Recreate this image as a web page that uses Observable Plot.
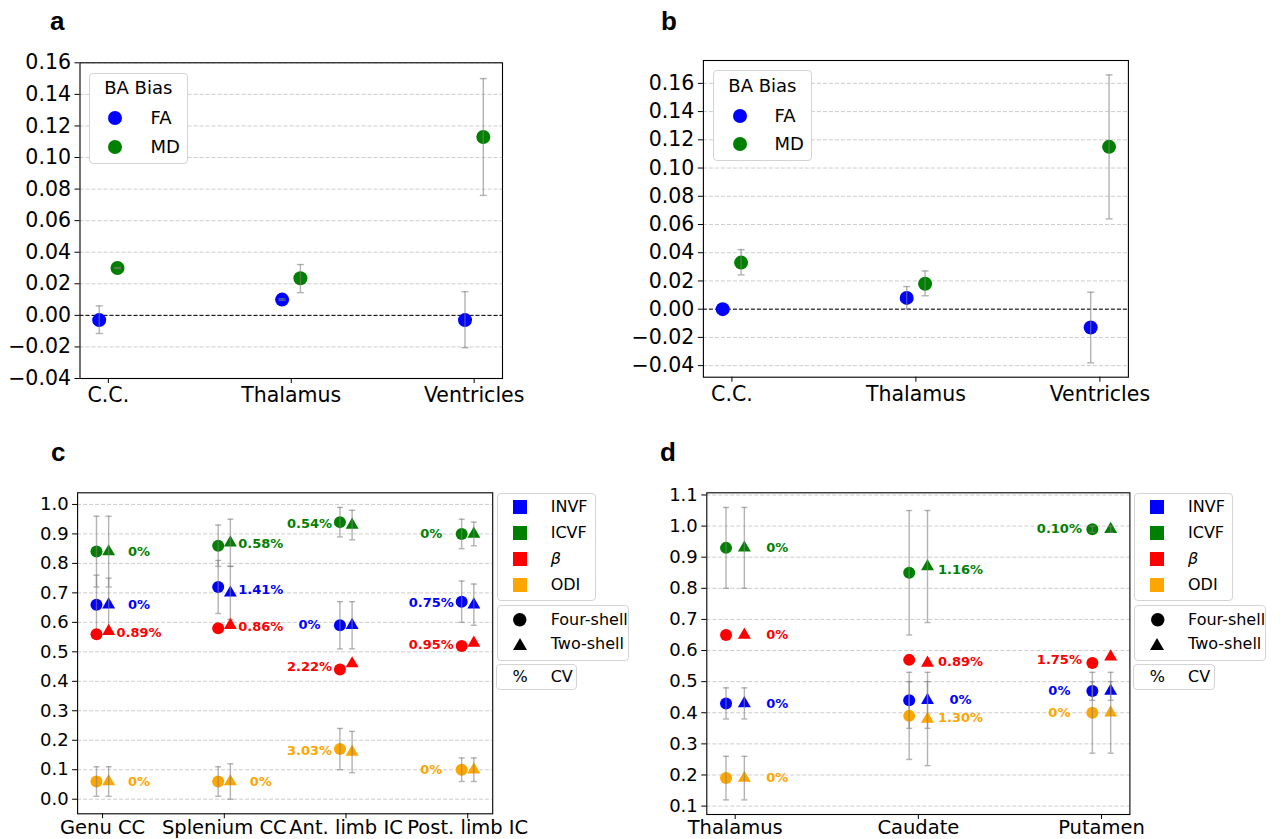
<!DOCTYPE html>
<html><head><meta charset="utf-8">
<script src="https://cdn.jsdelivr.net/npm/d3@7"></script>
<script src="https://cdn.jsdelivr.net/npm/@observablehq/plot@0.6"></script>
<style>
body{margin:0;background:#fff;}
#page{position:relative;width:1282px;height:839px;overflow:hidden;background:#fff;font-family:"DejaVu Sans",sans-serif;}
.panel{position:absolute;}
.panel svg{display:block;}
.letter{position:absolute;font-family:"Liberation Sans",Arial,sans-serif;font-weight:bold;font-size:26px;line-height:26px;color:#000;}
.lg{position:absolute;border:1px solid #d4d4d4;border-radius:4px;background:#fff;box-sizing:border-box;}
.lt{position:absolute;line-height:1;transform:translateY(-50%);white-space:nowrap;color:#000;font-family:"DejaVu Sans",sans-serif;}
.mk{position:absolute;}
</style></head><body><div id="page"></div>
<script>
// ================= DATA =================
// Panels a & b : BA bias
const regionsAB = ["C.C.", "Thalamus", "Ventricles"];
const biasSeries = ["FA", "MD"];
const biasLegendTitle = "BA Bias";

const aFA     = [-0.003, 0.010, -0.003];
const aFALow  = [-0.0115, 0.0095, -0.0205];
const aFAHigh = [0.006, 0.0105, 0.015];
const aMD     = [0.030, 0.0235, 0.113];
const aMDLow  = [0.0297, 0.0144, 0.076];
const aMDHigh = [0.0303, 0.0322, 0.150];

const bFA     = [0.000, 0.008, -0.013];
const bFALow  = [null, 0.0003, -0.038];
const bFAHigh = [null, 0.016, 0.012];
const bMD     = [0.033, 0.018, 0.115];
const bMDLow  = [0.0243, 0.0095, 0.064];
const bMDHigh = [0.0422, 0.0271, 0.166];

const abTicks = [-0.04, -0.02, 0, 0.02, 0.04, 0.06, 0.08, 0.10, 0.12, 0.14, 0.16];
const abTickLabels = ["\u22120.04", "\u22120.02", "0.00", "0.02", "0.04", "0.06", "0.08", "0.10", "0.12", "0.14", "0.16"];

// Panels c & d : NODDI metrics (rows: INVF, ICVF, beta, ODI)
const metrics = ["INVF", "ICVF", "\u03b2", "ODI"];
const shells = ["Four-shell", "Two-shell"];
const cvLegend = ["%", "CV"];

const regionsC = ["Genu CC", "Splenium CC", "Ant. limb IC", "Post. limb IC"];
const cFour     = [[0.66, 0.72, 0.59, 0.67], [0.84, 0.86, 0.94, 0.90], [0.56, 0.58, 0.44, 0.52], [0.06, 0.06, 0.17, 0.10]];
const cFourLow  = [[0.56, 0.63, 0.51, 0.60], [0.72, 0.79, 0.89, 0.85], [null, null, null, null], [0.01, 0.01, 0.10, 0.06]];
const cFourHigh = [[0.76, 0.81, 0.67, 0.74], [0.96, 0.93, 0.99, 0.95], [null, null, null, null], [0.11, 0.11, 0.24, 0.14]];
const cTwo      = [[0.66, 0.70, 0.59, 0.66], [0.84, 0.87, 0.93, 0.90], [0.57, 0.59, 0.46, 0.53], [0.06, 0.06, 0.16, 0.10]];
const cTwoLow   = [[0.56, 0.61, 0.51, 0.59], [0.72, 0.79, 0.88, 0.86], [null, null, null, null], [0.01, 0.00, 0.09, 0.06]];
const cTwoHigh  = [[0.75, 0.79, 0.67, 0.73], [0.96, 0.95, 0.98, 0.94], [null, null, null, null], [0.11, 0.12, 0.23, 0.14]];
const cCV       = [["0%", "1.41%", "0%", "0.75%"], ["0%", "0.58%", "0.54%", "0%"], ["0.89%", "0.86%", "2.22%", "0.95%"], ["0%", "0%", "3.03%", "0%"]];
const cTicks = [0, 0.1, 0.2, 0.3, 0.4, 0.5, 0.6, 0.7, 0.8, 0.9, 1.0];
const cTickLabels = ["0.0", "0.1", "0.2", "0.3", "0.4", "0.5", "0.6", "0.7", "0.8", "0.9", "1.0"];

const regionsD = ["Thalamus", "Caudate", "Putamen"];
const dFour     = [[0.43, 0.44, 0.47], [0.93, 0.85, 0.99], [0.65, 0.57, 0.56], [0.19, 0.39, 0.40]];
const dFourLow  = [[0.38, 0.35, 0.44], [0.80, 0.65, 0.98], [null, null, null], [0.12, 0.25, 0.27]];
const dFourHigh = [[0.48, 0.53, 0.53], [1.06, 1.05, 1.00], [null, null, null], [0.26, 0.50, 0.50]];
const dTwo      = [[0.43, 0.44, 0.47], [0.93, 0.87, 0.99], [0.65, 0.56, 0.58], [0.19, 0.38, 0.40]];
const dTwoLow   = [[0.38, 0.35, 0.44], [0.80, 0.69, 0.98], [null, null, null], [0.12, 0.23, 0.27]];
const dTwoHigh  = [[0.48, 0.53, 0.53], [1.06, 1.05, 1.00], [null, null, null], [0.26, 0.50, 0.50]];
const dCV       = [["0%", "0%", "0%"], ["0%", "1.16%", "0.10%"], ["0%", "0.89%", "1.75%"], ["0%", "1.30%", "0%"]];
const dTicks = [0.1, 0.2, 0.3, 0.4, 0.5, 0.6, 0.7, 0.8, 0.9, 1.0, 1.1];
const dTickLabels = ["0.1", "0.2", "0.3", "0.4", "0.5", "0.6", "0.7", "0.8", "0.9", "1.0", "1.1"];

// ================= STYLE / LAYOUT =================
const biasColors = ["blue", "green"];
const metricColors = ["blue", "green", "red", "orange"];
const dodge = 0.05;
const barStyle = {stroke: "gray", strokeOpacity: 0.6, strokeWidth: 1.4};
const capSymbol = {draw(ctx, size) { const w = Math.sqrt(size / Math.PI); ctx.moveTo(-w, 0); ctx.lineTo(w, 0); }};

const page = document.getElementById("page");

function xDomainFor(n) {
  const lo = -dodge, hi = n - 1 + dodge, pad = 0.05 * (hi - lo);
  return [lo - pad, hi + pad];
}
function yDomainFrom(arrs) {
  const v = arrs.flat(3).filter(d => d != null);
  const lo = d3.min(v), hi = d3.max(v), pad = 0.05 * (hi - lo);
  return [lo - pad, hi + pad];
}

function addPanel(cfg, marks, cats, ticks, tickLabels) {
  const svg = Plot.plot({
    width: cfg.width, height: cfg.height,
    marginLeft: cfg.ml, marginRight: cfg.mr, marginTop: cfg.mt, marginBottom: cfg.mb,
    x: {domain: xDomainFor(cats.length), axis: null, label: null},
    y: {domain: cfg.yDomain, axis: null, label: null},
    color: {type: "identity"},
    style: {fontFamily: "DejaVu Sans, sans-serif", background: "transparent", overflow: "visible", maxWidth: "none", color: "black"},
    marks: [
      Plot.gridY(ticks, {stroke: "#b0b0b0", strokeOpacity: 0.7, strokeDasharray: "4,2", strokeWidth: 0.9}),
      ...marks,
      Plot.frame({stroke: "#000", strokeWidth: 1.1}),
      Plot.axisY({ticks, tickFormat: d => tickLabels[ticks.indexOf(d)], tickSize: 5, tickPadding: 4, fontSize: cfg.yFont, label: null, anchor: "left"}),
      Plot.axisX({ticks: cats.map((_, i) => i), tickFormat: d => cats[d], tickSize: 5, tickPadding: cfg.xPad, fontSize: cfg.xFont, label: null, anchor: "bottom"})
    ]
  });
  const div = document.createElement("div");
  div.className = "panel";
  div.style.left = cfg.left + "px";
  div.style.top = cfg.top + "px";
  div.appendChild(svg);
  page.appendChild(div);
}

function biasMarks(FA, FALow, FAHigh, MD, MDLow, MDHigh) {
  const series = [[FA, FALow, FAHigh], [MD, MDLow, MDHigh]];
  const rows = [];
  series.forEach(([v, lo, hi], s) => v.forEach((val, i) => rows.push({x: i + (s === 0 ? -dodge : dodge), y: val, lo: lo[i], hi: hi[i], color: biasColors[s]})));
  const bars = rows.filter(r => r.lo != null);
  const caps = bars.flatMap(r => [{x: r.x, y: r.lo}, {x: r.x, y: r.hi}]);
  return [
    Plot.ruleY([0], {stroke: "#000", strokeDasharray: "4,2", strokeWidth: 1}),
    Plot.dot(rows, {x: "x", y: "y", fill: "color", r: 7}),
    Plot.ruleX(bars, {x: "x", y1: "lo", y2: "hi", ...barStyle}),
    Plot.dot(caps, {x: "x", y: "y", symbol: capSymbol, r: 3.5, fill: "none", ...barStyle})
  ];
}

function noddiMarks(four, fourLow, fourHigh, two, twoLow, twoHigh, cv, side, labelOff) {
  const marks = [];
  metrics.forEach((m, k) => {
    const circ = four[k].map((v, i) => ({x: i - dodge, y: v, lo: fourLow[k][i], hi: fourHigh[k][i], color: metricColors[k]}));
    const tri = two[k].map((v, i) => ({x: i + dodge, y: v, lo: twoLow[k][i], hi: twoHigh[k][i], color: metricColors[k]}));
    const bars = circ.concat(tri).filter(r => r.lo != null);
    const caps = bars.flatMap(r => [{x: r.x, y: r.lo}, {x: r.x, y: r.hi}]);
    const labels = cv[k].map((t, i) => ({x: i + side[i] * labelOff, y: (four[k][i] + two[k][i]) / 2, text: t, color: metricColors[k]}));
    marks.push(
      Plot.dot(circ, {x: "x", y: "y", fill: "color", r: 6}),
      Plot.dot(tri, {x: "x", y: "y", fill: "color", symbol: "triangle", r: 4.8}),
      Plot.ruleX(bars, {x: "x", y1: "lo", y2: "hi", ...barStyle}),
      Plot.dot(caps, {x: "x", y: "y", symbol: capSymbol, r: 3, fill: "none", ...barStyle}),
      Plot.text(labels, {x: "x", y: "y", text: "text", fill: "color", fontWeight: "bold", fontSize: 13, textAnchor: "middle", fontFamily: "DejaVu Sans, sans-serif"})
    );
  });
  return marks;
}

// ---------- panels ----------
addPanel({left: 0, top: 0, width: 540, height: 420, ml: 79.5, mr: 38, mt: 62.3, mb: 42, yDomain: [-0.04, 0.16], yFont: 20.5, xFont: 20.5, xPad: 4},
  biasMarks(aFA, aFALow, aFAHigh, aMD, aMDLow, aMDHigh), regionsAB, abTicks, abTickLabels);

addPanel({left: 620, top: 0, width: 560, height: 420, ml: 82.9, mr: 52.1, mt: 60, mb: 43.3,
  yDomain: yDomainFrom([bFA, bFALow, bFAHigh, bMD, bMDLow, bMDHigh]), yFont: 20.5, xFont: 20.5, xPad: 4},
  biasMarks(bFA, bFALow, bFAHigh, bMD, bMDLow, bMDHigh), regionsAB, abTicks, abTickLabels);

addPanel({left: 0, top: 430, width: 640, height: 409, ml: 77.1, mr: 147.8, mt: 62.3, mb: 25.7,
  yDomain: yDomainFrom([cFour, cFourLow, cFourHigh, cTwo, cTwoLow, cTwoHigh]), yFont: 18, xFont: 19.5, xPad: 1},
  noddiMarks(cFour, cFourLow, cFourHigh, cTwo, cTwoLow, cTwoHigh, cCV, [1, 1, -1, -1], 0.3), regionsC, cTicks, cTickLabels);

addPanel({left: 640, top: 430, width: 642, height: 409, ml: 66.3, mr: 152.6, mt: 62.3, mb: 25,
  yDomain: yDomainFrom([dFour, dFourLow, dFourHigh, dTwo, dTwoLow, dTwoHigh]), yFont: 18, xFont: 19.5, xPad: 1},
  noddiMarks(dFour, dFourLow, dFourHigh, dTwo, dTwoLow, dTwoHigh, dCV, [1, 1, -1], 0.23), regionsD, dTicks, dTickLabels);

// ---------- panel letters ----------
[["a", 50, 8], ["b", 661, 8], ["c", 51, 439], ["d", 660, 439]].forEach(([t, x, y]) => {
  const el = document.createElement("div");
  el.className = "letter"; el.textContent = t;
  el.style.left = x + "px"; el.style.top = y + "px";
  page.appendChild(el);
});

// ---------- legends ----------
function box(x, y, w, h) {
  const el = document.createElement("div");
  el.className = "lg";
  Object.assign(el.style, {left: x + "px", top: y + "px", width: w + "px", height: h + "px"});
  page.appendChild(el);
}
function text(x, y, str, size, extra) {
  const el = document.createElement("div");
  el.className = "lt"; el.textContent = str;
  Object.assign(el.style, {left: x + "px", top: y + "px", fontSize: size + "px"}, extra || {});
  page.appendChild(el);
  return el;
}
function marker(cx, cy, shape, color, s) {
  const ns = "http://www.w3.org/2000/svg";
  const svg = document.createElementNS(ns, "svg");
  svg.setAttribute("width", s + 2); svg.setAttribute("height", s + 2);
  svg.setAttribute("class", "mk");
  svg.style.left = (cx - s / 2 - 1) + "px"; svg.style.top = (cy - s / 2 - 1) + "px";
  let el;
  const c = s / 2 + 1;
  if (shape === "circle") {
    el = document.createElementNS(ns, "circle");
    el.setAttribute("cx", c); el.setAttribute("cy", c); el.setAttribute("r", s / 2);
  } else if (shape === "square") {
    el = document.createElementNS(ns, "rect");
    el.setAttribute("x", 1); el.setAttribute("y", 1); el.setAttribute("width", s); el.setAttribute("height", s);
  } else {
    const h = s * Math.sqrt(3) / 2;
    el = document.createElementNS(ns, "polygon");
    el.setAttribute("points", `${c},${c - h / 2} ${c + s / 2},${c + h / 2} ${c - s / 2},${c + h / 2}`);
  }
  el.setAttribute("fill", color);
  svg.appendChild(el);
  page.appendChild(svg);
}

function biasLegend(x, y) {
  box(x, y, 99, 91.3);
  text(x + 49.5, y + 15.5, biasLegendTitle, 18, {transform: "translate(-50%,-50%)"});
  biasSeries.forEach((s, i) => {
    marker(x + 26.6, y + 45.6 + 28.4 * i, "circle", biasColors[i], 14);
    text(x + 61.7, y + 45.6 + 28.4 * i, s, 18);
  });
}
biasLegend(88.8, 72.7);
biasLegend(712.9, 70);

function noddiLegend(x) {
  const y1 = 492.7;
  box(x, y1, 99.3, 108.6);
  metrics.forEach((m, i) => {
    const cy = y1 + 14.3 + 26.1 * i;
    marker(x + 23.3, cy, "square", metricColors[i], 14);
    text(x + 54, cy, m, 16, m === "\u03b2" ? {fontStyle: "italic"} : {});
  });
  const y2 = 604.7;
  box(x, y2, 132, 56);
  shells.forEach((s, i) => {
    const cy = y2 + 15 + 24.3 * i;
    marker(x + 23.3, cy, i === 0 ? "circle" : "triangle", "black", i === 0 ? 13.5 : 14);
    text(x + 54, cy, s, 16);
  });
  const y3 = 664;
  box(x - 0.7, y3, 81.3, 26.3);
  text(x + 23.3, y3 + 13.3, cvLegend[0], 16, {transform: "translate(-50%,-50%)"});
  text(x + 54, y3 + 13.3, cvLegend[1], 16);
}
noddiLegend(496.7);
noddiLegend(1134);
</script></body></html>
